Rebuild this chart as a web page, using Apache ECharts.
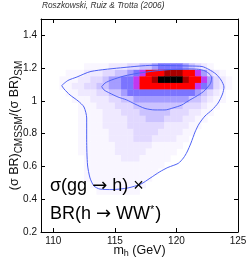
<!DOCTYPE html>
<html><head><meta charset="utf-8">
<script src="https://cdn.jsdelivr.net/npm/echarts/dist/echarts.min.js"></script>
<style>html,body{margin:0;padding:0;background:#fff}#c{width:249px;height:262px}</style>
</head><body><div id="c"></div><script>
// heatmap bin centres
const xCenters = [110.75,111.25,111.75,112.25,112.75,113.25,113.75,114.25,114.75,115.25,115.75,116.25,116.75,117.25,117.75,118.25,118.75,119.25,119.75,120.25,120.75,121.25,121.75,122.25,122.75,123.25,123.75,124.25];
const yCenters = [1.21,1.17,1.13,1.09,1.05,1.01,0.97,0.93,0.89,0.85,0.81,0.77,0.73,0.69,0.65,0.61,0.57,0.53,0.49,0.45];
// intensity level per cell (rows follow yCenters, columns follow xCenters)
const levels = [
[0,0,0,0,1,1,1,1,2,2,2,3,3,4,4,5,6,6,6,6,5,4,3,2,1,0,0,0],
[0,1,1,1,2,2,2,3,3,4,4,5,6,7,8,8,8,9,9,9,8,8,7,5,3,2,1,0],
[1,1,1,2,2,3,3,4,5,5,6,6,7,8,8,9,10,10,10,10,9,8,8,7,5,3,2,1],
[1,1,2,2,3,3,4,4,5,5,6,6,7,8,8,8,8,8,8,8,8,8,7,6,5,3,2,1],
[0,1,1,2,2,2,3,3,4,4,5,6,6,6,6,6,6,6,6,6,6,6,5,4,3,2,1,0],
[0,0,1,1,1,2,2,2,3,3,4,4,5,5,5,5,5,5,5,5,5,4,4,3,2,1,1,0],
[0,0,0,1,1,1,2,2,2,3,3,3,4,4,4,4,4,4,4,4,3,3,3,2,1,1,0,0],
[0,0,0,1,1,1,1,2,2,2,3,3,3,4,4,4,4,4,3,3,3,2,2,1,1,0,0,0],
[0,0,0,1,1,1,1,2,2,2,2,3,3,3,4,4,4,3,3,3,2,2,1,1,0,0,0,0],
[0,0,0,1,1,1,1,2,2,2,2,3,3,3,3,3,3,2,2,2,2,1,1,0,0,0,0,0],
[0,0,0,1,1,1,1,1,2,2,2,2,3,3,3,3,2,2,2,2,1,1,0,0,0,0,0,0],
[0,0,0,1,1,1,1,1,2,2,2,2,3,3,3,2,2,2,2,1,1,0,0,0,0,0,0,0],
[0,0,0,1,1,1,1,1,1,2,2,2,2,2,2,1,1,1,1,1,0,0,0,0,0,0,0,0],
[0,0,0,1,1,1,1,1,1,2,2,2,2,2,1,1,1,1,1,0,0,0,0,0,0,0,0,0],
[0,0,0,0,1,1,1,1,1,1,2,2,2,1,1,1,1,1,0,0,0,0,0,0,0,0,0,0],
[0,0,0,0,1,1,1,1,1,1,1,1,1,1,1,1,1,0,0,0,0,0,0,0,0,0,0,0],
[0,0,0,0,1,1,1,1,1,1,1,1,1,1,1,1,0,0,0,0,0,0,0,0,0,0,0,0],
[0,0,0,0,1,1,1,1,1,1,1,1,1,1,1,0,0,0,0,0,0,0,0,0,0,0,0,0],
[0,0,0,0,0,1,1,1,1,1,1,1,1,1,0,0,0,0,0,0,0,0,0,0,0,0,0,0],
[0,0,0,0,0,0,1,1,1,1,1,1,1,0,0,0,0,0,0,0,0,0,0,0,0,0,0,0]
];
const levelColors = ['#ffffff','#f9f6ff','#efe9ff','#e1d8ff','#cbc2ff','#a59dff','#7b74ff','#c238f0','#ff0000','#a80000','#000000'];
// credible-region contours (95% outer, 68% inner), [m_h, ratio]
const contour95 = [[110.68,1.094],[111.19,1.125],[111.92,1.146],[113.06,1.180],[115.74,1.204],[118.02,1.217],[121.10,1.213],[122.08,1.210],[122.64,1.192],[123.21,1.164],[123.62,1.128],[123.86,1.085],[123.74,1.042],[123.38,0.987],[122.89,0.945],[122.32,0.908],[121.83,0.859],[121.51,0.810],[121.18,0.743],[120.86,0.688],[120.57,0.652],[120.15,0.619],[119.31,0.594],[118.66,0.568],[117.85,0.528],[117.12,0.493],[116.07,0.469],[114.77,0.459],[113.79,0.462],[113.30,0.481],[112.98,0.530],[112.78,0.609],[112.71,0.762],[112.71,0.896],[112.49,0.963],[112.01,1.000],[111.36,1.036],[110.87,1.073],[110.68,1.094]];
const contour68 = [[113.93,1.087],[114.20,1.109],[114.74,1.128],[115.74,1.152],[116.90,1.169],[118.26,1.183],[119.62,1.192],[121.10,1.195],[121.78,1.193],[122.32,1.183],[122.73,1.161],[122.86,1.140],[122.77,1.108],[122.48,1.079],[122.18,1.056],[121.59,1.027],[120.96,1.000],[120.43,0.975],[119.72,0.957],[119.07,0.945],[118.26,0.945],[117.45,0.954],[116.63,0.981],[115.96,1.006],[115.25,1.024],[114.60,1.047],[114.12,1.067],[113.93,1.087]];
const xTicks = [110,115,120,125];
const yTicks = [0.2,0.4,0.6,0.8,1,1.2,1.4];
const xRange = [109,125];
const yRange = [0.2,1.5];

const cells = [];
levels.forEach((row, r) => row.forEach((v, c) => { if (v > 0) cells.push([xCenters[c], yCenters[r], v]); }));
const XB = 0.5, YB = 0.04;
const F = '"Liberation Sans", Arial, Helvetica, sans-serif';
const FA = '"DejaVu Sans", sans-serif';

function axisCommon(extra) {
  return Object.assign({
    type: 'value', splitLine: {show: false},
    axisLine: {show: true, onZero: false, lineStyle: {color: '#000', width: 1}},
  }, extra);
}
const chart = echarts.init(document.getElementById('c'), null, {renderer: 'canvas'});
chart.setOption({
  animation: false,
  grid: {left: 41, top: 19, right: 11, bottom: 30, containLabel: false, outerBoundsMode: 'none'},
  xAxis: [
    axisCommon({position: 'bottom', min: xRange[0], max: xRange[1],
      axisTick: {inside: true, length: 4, customValues: xTicks, lineStyle: {color: '#000'}},
      axisLabel: {customValues: xTicks, margin: 4, fontSize: 10, fontFamily: F, color: '#111', showMaxLabel: true},
      name: '{a|m}{s|h}{a| (GeV)}', nameLocation: 'middle', nameGap: 12, nameMoveOverlap: false,
      nameTextStyle: {fontFamily: F, color: '#111', rich: {a: {fontSize: 12.5, fontFamily: F, color: '#111', lineHeight: 13}, s: {fontSize: 9, fontFamily: F, color: '#111', lineHeight: 9, padding: [6, 0, 0, 0]}}}
    }),
    axisCommon({position: 'top', min: xRange[0], max: xRange[1],
      axisTick: {inside: true, length: 4, customValues: xTicks, lineStyle: {color: '#000'}},
      axisLabel: {show: false}})
  ],
  yAxis: [
    axisCommon({position: 'left', min: yRange[0], max: yRange[1],
      axisTick: {inside: true, length: 4, customValues: yTicks, lineStyle: {color: '#000'}},
      axisLabel: {customValues: yTicks, margin: 4, fontSize: 10, fontFamily: F, color: '#111'},
      name: '{a|(σ BR)}{s|CMSSM}{a|/(σ BR)}{s|SM}', nameLocation: 'middle', nameGap: 20, nameRotate: 90, nameMoveOverlap: false,
      nameTextStyle: {fontFamily: F, color: '#111', rich: {a: {fontSize: 12.5, fontFamily: F, color: '#111', lineHeight: 13}, s: {fontSize: 10, fontFamily: F, color: '#111', lineHeight: 10, padding: [9, 0, 0, 0]}}}
    }),
    axisCommon({position: 'right', min: yRange[0], max: yRange[1],
      axisTick: {inside: true, length: 4, customValues: yTicks, lineStyle: {color: '#000'}},
      axisLabel: {show: false}})
  ],
  series: [
    {type: 'custom', xAxisIndex: 0, yAxisIndex: 0, data: cells, clip: true,
      renderItem: function (params, api) {
        const x = api.value(0), y = api.value(1);
        const p1 = api.coord([x - XB / 2, y + YB / 2]);
        const p2 = api.coord([x + XB / 2, y - YB / 2]);
        return {type: 'rect', shape: {x: p1[0], y: p1[1], width: p2[0] - p1[0] + 0.4, height: p2[1] - p1[1] + 0.4},
          style: {fill: levelColors[api.value(2)]}};
      }},
    {type: 'line', data: contour95, showSymbol: false, smooth: 0.25, lineStyle: {color: '#4f62f5', width: 1}, z: 5},
    {type: 'line', data: contour68, showSymbol: false, smooth: 0.25, lineStyle: {color: '#4f62f5', width: 1}, z: 5}
  ],
  graphic: [
    {type: 'text', left: 42, top: 2, style: {text: 'Roszkowski, Ruiz & Trotta (2006)', font: 'italic 8.3px ' + F, fill: '#333'}},
    {type: 'text', left: 50, top: 177, z: 10, style: {text: '{m|σ(gg }{ar|→}{m| h) ×}',
      rich: {m: {fontSize: 18, fontFamily: F, color: '#111', lineHeight: 20}, ar: {fontSize: 18, fontFamily: FA, color: '#111', lineHeight: 20}}}},
    {type: 'text', left: 50, top: 204, z: 10, style: {text: '{m|BR(h }{ar|→}{m| WW}{p|*}{m|)}',
      rich: {m: {fontSize: 18, fontFamily: F, color: '#111', lineHeight: 20}, ar: {fontSize: 18, fontFamily: FA, color: '#111', lineHeight: 20}, p: {fontSize: 11, fontFamily: F, color: '#111', lineHeight: 11, padding: [0, 1, 9, 0]}}}}
  ]
});
</script></body></html>
